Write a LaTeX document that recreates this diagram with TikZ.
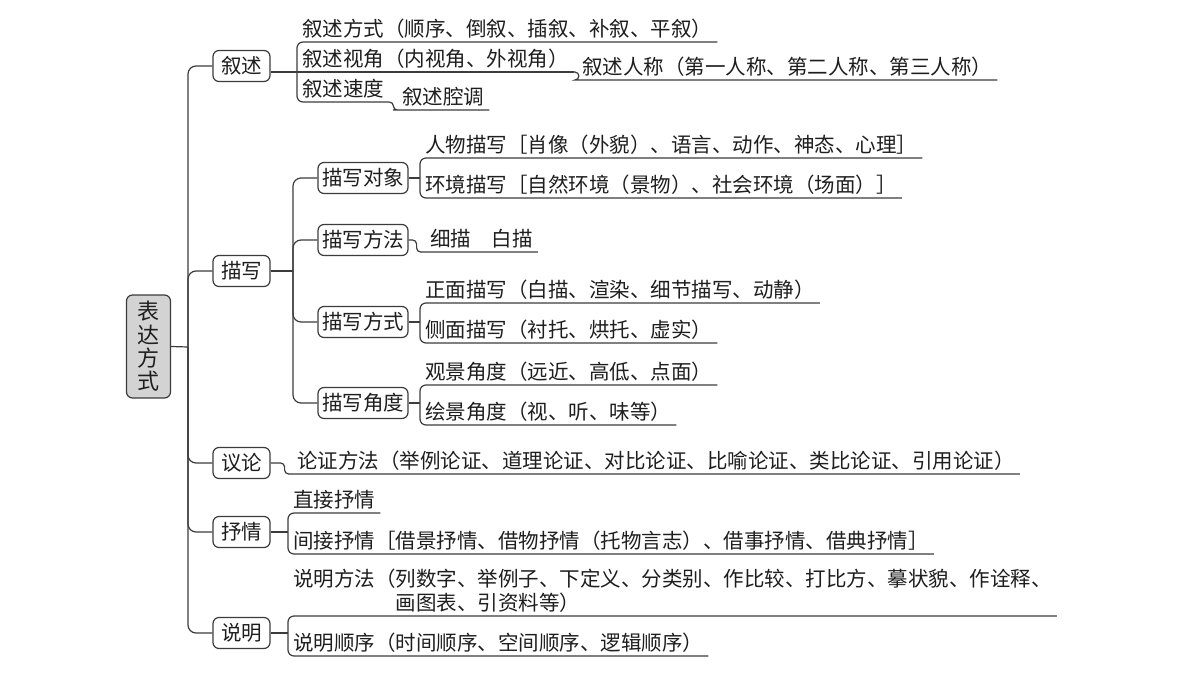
\documentclass[tikz,border=0pt]{standalone}
\usepackage{fontspec}
\setmainfont{Noto Sans CJK SC}
\definecolor{linec}{HTML}{3C3C3C}
\definecolor{txt}{HTML}{1E1E1E}
\definecolor{rootfill}{HTML}{D3D3D3}
\begin{document}
\begin{tikzpicture}[x=1pt,y=-1pt,
  conn/.style={draw=linec, line width=1.2pt},
  box/.style={draw=linec, line width=1.2pt, rounded corners=6pt, inner sep=0pt, minimum height=31pt, text=txt, font=\fontsize{20.5}{24}\selectfont},
  lone/.style={box, minimum width=57pt},
  ltwo/.style={box, minimum width=90pt},
  rootbox/.style={box, fill=rootfill, minimum width=44pt, minimum height=103pt, align=center, font=\fontsize{22}{23.3}\selectfont},
  leaf/.style={anchor=south west, inner xsep=5pt, inner ysep=2.4pt, text height=17pt, text depth=3pt, text=txt, font=\fontsize{20.5}{24}\selectfont},
]
\useasboundingbox (0,0) rectangle (1200,675);
\fill[white] (0,0) rectangle (1200,675);

% root and level 1
\node[rootbox] (root) at (148.5,346.5) {表\\达\\方\\式};
\node[lone] (xs) at (241.5,66) {叙述};
\node[lone] (mx) at (241.5,271) {描写};
\node[lone] (yl) at (241.5,463) {议论};
\node[lone] (sq) at (241.5,532) {抒情};
\node[lone] (sm) at (241.5,633) {说明};
\coordinate (t) at (188,347);
\draw[conn] (root.east) -- (t);
\draw[conn, rounded corners=8pt] (t) |- (xs.west);
\draw[conn, rounded corners=8pt] (t) |- (mx.west);
\draw[conn, rounded corners=8pt] (t) |- (yl.west);
\draw[conn, rounded corners=8pt] (t) |- (sq.west);
\draw[conn, rounded corners=8pt] (t) |- (sm.west);

% 叙述
\node[leaf] (a1) at (297,42) {叙述方式（顺序、倒叙、插叙、补叙、平叙）};
\node[leaf] (a2) at (297,72) {叙述视角（内视角、外视角）};
\node[leaf] (a3) at (297,102) {叙述速度};
\node[leaf] (a4) at (577,80) {叙述人称（第一人称、第二人称、第三人称）};
\node[leaf] (a5) at (397,110) {叙述腔调};
\draw[conn, rounded corners=6pt] (a1.south east) -- (a1.south west) -- (a3.south west) -- (a3.south east);
\draw[conn] (xs.east |- a2.south) -- (a2.south east);
\draw[conn, rounded corners=4pt] (a2.south east) -- ++(5,0) |- (a4.south west) -- (a4.south east);
\draw[conn, rounded corners=4pt] (a3.south east) -- ++(4,0) |- (a5.south west) -- (a5.south east);

% 描写 level 2
\node[ltwo] (dx1) at (363,178) {描写对象};
\node[ltwo] (dx2) at (363,240) {描写方法};
\node[ltwo] (dx3) at (363,322) {描写方式};
\node[ltwo] (dx4) at (363,403) {描写角度};
\coordinate (t2) at (293,271);
\draw[conn] (mx.east) -- (t2);
\draw[conn, rounded corners=8pt] (t2) |- (dx1.west);
\draw[conn, rounded corners=8pt] (t2) |- (dx2.west);
\draw[conn, rounded corners=8pt] (t2) |- (dx3.west);
\draw[conn, rounded corners=8pt] (t2) |- (dx4.west);

% 描写对象
\node[leaf] (b1) at (420,158) {人物描写［肖像（外貌）、语言、动作、神态、心理］};
\node[leaf] (b2) at (420,198) {环境描写［自然环境（景物）、社会环境（场面）］};
\draw[conn, rounded corners=6pt] (b1.south east) -- (b1.south west) -- (b2.south west) -- (b2.south east);
\draw[conn] (dx1.east) -- (dx1.east -| b1.south west);

% 描写方法
\node[leaf] (c1) at (425,252) {细描　白描};
\draw[conn, rounded corners=4pt] (dx2.east) -- ++(8,0) |- (c1.south west) -- (c1.south east);

% 描写方式
\node[leaf] (d1) at (420,303) {正面描写（白描、渲染、细节描写、动静）};
\node[leaf] (d2) at (420,343) {侧面描写（衬托、烘托、虚实）};
\draw[conn, rounded corners=6pt] (d1.south east) -- (d1.south west) -- (d2.south west) -- (d2.south east);
\draw[conn] (dx3.east) -- (dx3.east -| d1.south west);

% 描写角度
\node[leaf] (e1) at (420,385) {观景角度（远近、高低、点面）};
\node[leaf] (e2) at (420,425) {绘景角度（视、听、味等）};
\draw[conn, rounded corners=6pt] (e1.south east) -- (e1.south west) -- (e2.south west) -- (e2.south east);
\draw[conn] (dx4.east) -- (dx4.east -| e1.south west);

% 议论
\node[leaf] (f1) at (292,474) {论证方法（举例论证、道理论证、对比论证、比喻论证、类比论证、引用论证）};
\draw[conn, rounded corners=4pt] (yl.east) -- ++(14,0) |- (f1.south west) -- (f1.south east);

% 抒情
\node[leaf] (g1) at (288,513) {直接抒情};
\node[leaf] (g2) at (288,554) {间接抒情［借景抒情、借物抒情（托物言志）、借事抒情、借典抒情］};
\draw[conn, rounded corners=6pt] (g1.south east) -- (g1.south west) -- (g2.south west) -- (g2.south east);
\draw[conn] (sq.east) -- (sq.east -| g1.south west);

% 说明
\node[leaf, align=left, text height=41pt] (h1) at (288,616) {说明方法（列数字、举例子、下定义、分类别、作比较、打比方、摹状貌、作诠释、\\\hspace*{5em}画图表、引资料等）};
\node[leaf] (h2) at (288,656) {说明顺序（时间顺序、空间顺序、逻辑顺序）};
\draw[conn, rounded corners=6pt] (h1.south east) -- (h1.south west) -- (h2.south west) -- (h2.south east);
\draw[conn] (sm.east) -- (sm.east -| h1.south west);
\end{tikzpicture}
\end{document}
